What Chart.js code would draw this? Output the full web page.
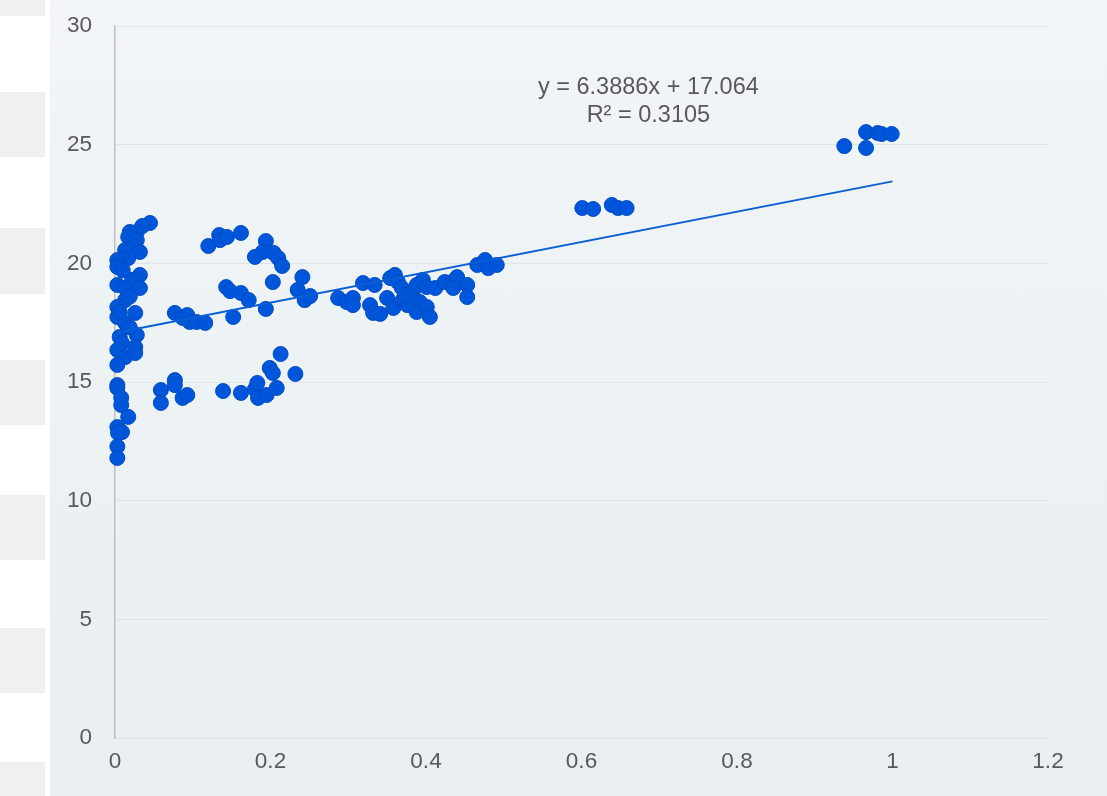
<!DOCTYPE html>
<html>
<head>
<meta charset="utf-8">
<script src="https://cdn.jsdelivr.net/npm/chart.js@4.4.1/dist/chart.umd.min.js"></script>
<style>
  html, body { margin: 0; padding: 0; background: #ffffff; }
  body { width: 1107px; height: 796px; position: relative; overflow: hidden; font-family: "Liberation Sans", Arial, sans-serif; }
  .side { position: absolute; left: 0; width: 45px; background: #f0f0f0; }
  #wrap { position: absolute; left: 50px; top: 0; width: 1057px; height: 796px;
          background: linear-gradient(180deg, #f1f5f8 0%, #e8eef1 100%); }
</style>
</head>
<body>
<div class="side" style="top:0;height:16px"></div>
<div class="side" style="top:92px;height:65px"></div>
<div class="side" style="top:228px;height:66px"></div>
<div class="side" style="top:360px;height:65px"></div>
<div class="side" style="top:495px;height:65px"></div>
<div class="side" style="top:628px;height:65px"></div>
<div class="side" style="top:762px;height:34px"></div>
<div id="wrap"><canvas id="c" width="1057" height="796"></canvas></div>
<script>
// Observations near x = 0
const edgeX = [0.045, 0.035, 0.028, 0.019, 0.017, 0.028, 0.026, 0.013, 0.032, 0.017, 0.003, 0.003, 0.032, 0.022, 0.003, 0.013, 0.032, 0.013, 0.003, 0.026, 0.003, 0.013, 0.028, 0.006, 0.009, 0.026, 0.003, 0.013, 0.026, 0.003, 0.003, 0.003, 0.008, 0.008, 0.017, 0.003, 0.009, 0.004, 0.003, 0.003, 0.010, 0.019, 0.006, 0.019];
const edgeY = [21.70, 21.57, 21.32, 21.32, 21.11, 20.98, 20.69, 20.56, 20.48, 20.22, 20.14, 19.85, 19.51, 19.30, 19.09, 18.96, 18.96, 18.45, 18.16, 17.91, 17.74, 17.49, 16.98, 16.90, 16.64, 16.47, 16.35, 16.05, 16.22, 15.72, 14.87, 14.75, 14.33, 14.03, 13.53, 13.10, 12.89, 12.85, 12.28, 11.80, 19.70, 18.60, 17.95, 17.30];

// Observations between 0.05 and 0.26
const lowMidX = [0.120, 0.134, 0.135, 0.144, 0.162, 0.194, 0.190, 0.180, 0.204, 0.210, 0.215, 0.203, 0.143, 0.148, 0.162, 0.172, 0.194, 0.152, 0.241, 0.235, 0.244, 0.251, 0.077, 0.087, 0.093, 0.096, 0.105, 0.116];
const lowMidY = [20.73, 21.19, 20.98, 21.11, 21.28, 20.94, 20.48, 20.27, 20.44, 20.22, 19.89, 19.21, 19.00, 18.83, 18.75, 18.45, 18.08, 17.74, 19.42, 18.88, 18.45, 18.62, 17.91, 17.70, 17.82, 17.53, 17.53, 17.49];

// Lower band between 0.05 and 0.24
const lowBandX = [0.059, 0.059, 0.077, 0.077, 0.087, 0.093, 0.139, 0.162, 0.180, 0.184, 0.195, 0.208, 0.199, 0.203, 0.213, 0.232, 0.183];
const lowBandY = [14.66, 14.12, 15.08, 14.87, 14.33, 14.45, 14.62, 14.54, 14.70, 14.33, 14.45, 14.75, 15.59, 15.38, 16.18, 15.34, 14.96];

// Observations between 0.28 and 0.50
const midX = [0.287, 0.298, 0.306, 0.306, 0.319, 0.334, 0.328, 0.332, 0.341, 0.350, 0.354, 0.360, 0.364, 0.358, 0.369, 0.370, 0.376, 0.373, 0.383, 0.388, 0.396, 0.401, 0.392, 0.388, 0.401, 0.405, 0.412, 0.424, 0.433, 0.440, 0.435, 0.453, 0.453, 0.466, 0.476, 0.480, 0.491];
const midY = [18.54, 18.37, 18.54, 18.24, 19.17, 19.09, 18.24, 17.91, 17.87, 18.54, 19.38, 19.51, 19.21, 18.12, 18.96, 18.45, 18.24, 18.67, 18.79, 19.09, 19.30, 19.00, 18.37, 17.95, 18.16, 17.74, 18.96, 19.21, 19.21, 19.42, 18.96, 19.09, 18.58, 19.93, 20.14, 19.80, 19.93];

// Observations above 0.6
const highX = [0.601, 0.615, 0.639, 0.647, 0.658, 0.938, 0.966, 0.966, 0.981, 0.986, 0.999];
const highY = [22.33, 22.29, 22.46, 22.33, 22.33, 24.94, 25.53, 24.86, 25.49, 25.45, 25.45];

// Linear trend
const trendSlope = 6.3886;
const trendIntercept = 17.064;
const trendRange = [0.003, 1];
const equationLines = ['y = 6.3886x + 17.064', 'R² = 0.3105'];
const equationAnchor = { x: 0.686, y: [27.39, 26.21] };

// Axis ticks
const xTicks = [0, 0.2, 0.4, 0.6, 0.8, 1, 1.2];
const yTicks = [0, 5, 10, 15, 20, 25, 30];

function zip(xs, ys) { return xs.map((x, i) => ({ x: x, y: ys[i] })); }
const scatterPoints = [].concat(
  zip(edgeX, edgeY), zip(lowMidX, lowMidY), zip(lowBandX, lowBandY),
  zip(midX, midY), zip(highX, highY)
);
const trendPoints = trendRange.map(x => ({ x: x, y: trendSlope * x + trendIntercept }));

const labelFont = { family: "'Liberation Sans', Arial, sans-serif", size: 22.5 };
const labelColor = '#595959';

const equationPlugin = {
  id: 'equation',
  afterDatasetsDraw(chart) {
    const ctx = chart.ctx;
    const xs = chart.scales.x, ys = chart.scales.y;
    ctx.save();
    ctx.font = "23.5px 'Liberation Sans', Arial, sans-serif";
    ctx.fillStyle = labelColor;
    ctx.textAlign = 'center';
    ctx.textBaseline = 'middle';
    equationLines.forEach((t, i) => {
      ctx.fillText(t, xs.getPixelForValue(equationAnchor.x), ys.getPixelForValue(equationAnchor.y[i]));
    });
    ctx.restore();
  }
};

new Chart(document.getElementById('c'), {
  type: 'scatter',
  data: {
    datasets: [
      {
        type: 'line',
        data: trendPoints,
        borderColor: '#0a5fd3',
        borderWidth: 2,
        pointRadius: 0,
        fill: false,
        clip: false,
        order: 0
      },
      {
        data: scatterPoints,
        backgroundColor: '#0056da',
        borderColor: '#004bc2',
        borderWidth: 1,
        pointRadius: 7.5,
        pointHoverRadius: 7.5,
        clip: false,
        order: 1
      }
    ]
  },
  options: {
    responsive: false,
    animation: false,
    layout: { padding: { top: 26, right: 59, left: 0, bottom: 0 } },
    plugins: { legend: { display: false }, tooltip: { enabled: false } },
    scales: {
      x: {
        type: 'linear',
        min: 0, max: 1.2,
        afterBuildTicks(axis) { axis.ticks = xTicks.map(v => ({ value: v })); },
        afterFit(axis) { axis.height = 58; axis.paddingLeft = 0; axis.paddingRight = 0; },
        grid: { display: false, drawTicks: false },
        border: { display: true, color: '#dde2e5', width: 1 },
        ticks: { color: labelColor, font: labelFont, padding: 10, maxRotation: 0, callback: v => String(v) }
      },
      y: {
        type: 'linear',
        min: 0, max: 30,
        afterBuildTicks(axis) { axis.ticks = yTicks.map(v => ({ value: v })); },
        afterFit(axis) { axis.width = 65; axis.paddingTop = 0; axis.paddingBottom = 0; },
        grid: { color: '#dfe4e7', lineWidth: 1, drawTicks: false },
        border: { display: true, color: '#bfbfbf', width: 1.5 },
        ticks: { color: labelColor, font: labelFont, padding: 23, callback: v => String(v) }
      }
    }
  },
  plugins: [equationPlugin]
});
</script>
</body>
</html>
